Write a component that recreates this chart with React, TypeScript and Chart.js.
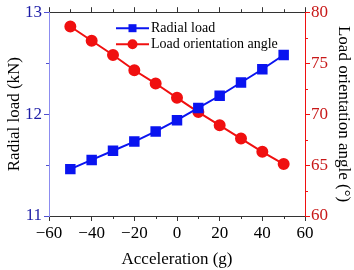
import React, { useEffect, useRef } from "react";
import { Chart, registerables } from "chart.js";

Chart.register(...registerables);

// Acceleration (g) on the horizontal axis
const acceleration = [-50, -40, -30, -20, -10, 0, 10, 20, 30, 40, 50];
// Radial load (kN), left axis
const radialLoad = [11.46, 11.55, 11.64, 11.73, 11.83, 11.94, 12.06, 12.18, 12.31, 12.44, 12.58];
// Load orientation angle (°), right axis
const orientationAngle = [78.6, 77.2, 75.8, 74.3, 73.0, 71.6, 70.2, 68.9, 67.6, 66.3, 65.1];

const xMinorTicks = [-50, -30, -10, 10, 30, 50];
const yMinorTicks = [11.5, 12.5];
const y1MinorTicks = [62.5, 67.5, 72.5, 77.5];

const FONT = "'Liberation Serif', 'Times New Roman', serif";
const BLUE = "#0a14f0";
const RED = "#f01010";

const minus = (v: number | string) => String(v).replace("-", "\u2212");

// Short minor tick marks on the outside of each axis
const minorTicksPlugin = {
  id: "minorTicks",
  afterDraw(chart: any) {
    const ctx = chart.ctx;
    const { x, x2, y, y1 } = chart.scales;
    const len = 3;
    ctx.save();
    ctx.lineWidth = 1;
    ctx.strokeStyle = "#333";
    xMinorTicks.forEach((v) => {
      const px = Math.round(x.getPixelForValue(v)) + 0.5;
      ctx.beginPath();
      ctx.moveTo(px, x.top);
      ctx.lineTo(px, x.top + len);
      ctx.moveTo(px, x2.bottom);
      ctx.lineTo(px, x2.bottom - len);
      ctx.stroke();
    });
    ctx.strokeStyle = "#5050d0";
    yMinorTicks.forEach((v) => {
      const py = Math.round(y.getPixelForValue(v)) + 0.5;
      ctx.beginPath();
      ctx.moveTo(y.right, py);
      ctx.lineTo(y.right - len, py);
      ctx.stroke();
    });
    ctx.strokeStyle = RED;
    y1MinorTicks.forEach((v) => {
      const py = Math.round(y1.getPixelForValue(v)) + 0.5;
      ctx.beginPath();
      ctx.moveTo(y1.left, py);
      ctx.lineTo(y1.left + len, py);
      ctx.stroke();
    });
    ctx.restore();
  },
};

// Legend inside the plot: line segment with marker, then label
const insideLegendPlugin = {
  id: "insideLegend",
  afterDatasetsDraw(chart: any) {
    const ctx = chart.ctx;
    const area = chart.chartArea;
    const x0 = area.left + 67;
    const x1 = area.left + 100;
    ctx.save();
    chart.data.datasets.forEach((ds: any, i: number) => {
      const yy = area.top + 16 + i * 16;
      ctx.strokeStyle = ds.borderColor;
      ctx.lineWidth = ds.borderWidth;
      ctx.beginPath();
      ctx.moveTo(x0, yy);
      ctx.lineTo(x1, yy);
      ctx.stroke();
      ctx.fillStyle = ds.pointBackgroundColor;
      const cx = (x0 + x1) / 2;
      if (ds.pointStyle === "rect") {
        ctx.fillRect(cx - 4, yy - 4, 8, 8);
      } else {
        ctx.beginPath();
        ctx.arc(cx, yy, ds.pointRadius, 0, Math.PI * 2);
        ctx.fill();
      }
      ctx.fillStyle = "#000";
      ctx.font = `14px ${FONT}`;
      ctx.textBaseline = "middle";
      ctx.textAlign = "left";
      ctx.fillText(ds.label, x1 + 2, yy);
    });
    ctx.restore();
  },
};

export default function App() {
  const canvasRef = useRef<HTMLCanvasElement | null>(null);

  useEffect(() => {
    if (!canvasRef.current) return;
    const chart = new Chart(canvasRef.current, {
      type: "line",
      data: {
        datasets: [
          {
            label: "Radial load",
            data: acceleration.map((a, i) => ({ x: a, y: radialLoad[i] })),
            yAxisID: "y",
            borderColor: BLUE,
            backgroundColor: BLUE,
            pointBackgroundColor: BLUE,
            pointBorderColor: BLUE,
            pointStyle: "rect",
            pointRadius: 6,
            borderWidth: 2,
          },
          {
            label: "Load orientation angle",
            data: acceleration.map((a, i) => ({ x: a, y: orientationAngle[i] })),
            yAxisID: "y1",
            borderColor: RED,
            backgroundColor: RED,
            pointBackgroundColor: RED,
            pointBorderColor: RED,
            pointStyle: "circle",
            pointRadius: 5,
            borderWidth: 2,
          },
        ],
      },
      options: {
        responsive: false,
        animation: false,
        layout: { padding: 0 },
        plugins: { legend: { display: false }, tooltip: { enabled: false } },
        scales: {
          x: {
            type: "linear",
            position: "bottom",
            min: -60,
            max: 60,
            afterFit: (s: any) => {
              s.height = 54;
            },
            border: { color: "#333", width: 1 },
            grid: { drawOnChartArea: false, tickLength: 5, tickColor: "#333" },
            ticks: {
              stepSize: 20,
              padding: 2,
              color: "#000",
              font: { family: FONT, size: 17 },
              callback: (v: any) => minus(v),
            },
            title: {
              display: true,
              text: "Acceleration (g)",
              color: "#000",
              font: { family: FONT, size: 17 },
              padding: 0,
            },
          },
          x2: {
            type: "linear",
            position: "top",
            min: -60,
            max: 60,
            afterFit: (s: any) => {
              s.height = 11;
            },
            border: { color: "#333", width: 1 },
            grid: { drawOnChartArea: false, tickLength: 5, tickColor: "#333" },
            ticks: { stepSize: 20, display: false },
          },
          y: {
            type: "linear",
            position: "left",
            min: 11,
            max: 13,
            afterFit: (s: any) => {
              s.width = 49;
            },
            border: { color: "#8c8cf0", width: 1 },
            grid: { drawOnChartArea: false, tickLength: 5, tickColor: "#5050d0" },
            ticks: {
              stepSize: 1,
              padding: 2,
              color: "#1c1ca6",
              font: { family: FONT, size: 17 },
            },
            title: {
              display: true,
              text: "Radial load (kN)",
              color: "#000",
              font: { family: FONT, size: 17 },
              padding: { top: 4, bottom: 0 },
            },
          },
          y1: {
            type: "linear",
            position: "right",
            min: 60,
            max: 80,
            afterFit: (s: any) => {
              s.width = 49;
            },
            border: { color: RED, width: 1 },
            grid: { drawOnChartArea: false, tickLength: 5, tickColor: RED },
            ticks: {
              stepSize: 5,
              padding: 1,
              color: "#c81818",
              font: { family: FONT, size: 17 },
            },
            title: {
              display: true,
              text: "Load orientation angle (\u00b0)",
              color: "#000",
              font: { family: FONT, size: 17 },
              padding: 0,
            },
          },
        },
      },
      plugins: [minorTicksPlugin, insideLegendPlugin],
    } as any);
    return () => chart.destroy();
  }, []);

  return (
    <div style={{ position: "fixed", left: 0, top: 0, width: 354, height: 270, background: "#fff" }}>
      <canvas ref={canvasRef} width={354} height={270} style={{ display: "block" }} />
    </div>
  );
}
